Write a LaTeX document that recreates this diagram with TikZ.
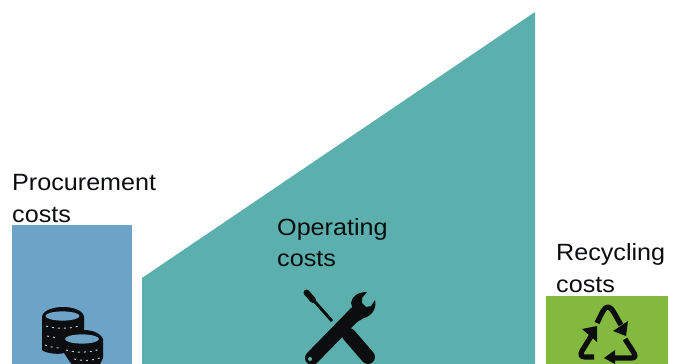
\documentclass[tikz,border=0pt]{standalone}
\usepackage{fontspec}
\setmainfont[FakeStretch=1.07]{Liberation Sans}
\definecolor{procblue}{HTML}{6CA3C6}
\definecolor{opteal}{HTML}{5BB0AE}
\definecolor{recgreen}{HTML}{84B93F}
\definecolor{ink}{HTML}{0B0D0E}
\tikzset{
  lab/.style={anchor=base west,inner sep=0pt,font=\fontsize{23.5}{26}\selectfont,text=ink},
  arm/.style={draw=ink,line width=5.2pt,line join=round},
  headtip/.style={fill=ink,draw=none}
}
\begin{document}
\begin{tikzpicture}[x=1pt,y=-1pt]
\useasboundingbox (0,0) rectangle (680,364);
\fill[white] (0,0) rectangle (680,364);
% bars
\fill[procblue] (12,225) rectangle (132,364);
\fill[opteal] (142,278) -- (535,12) -- (535,364) -- (142,364) -- cycle;
\fill[recgreen] (546,296) rectangle (668,364);
% labels
\node[lab] (proc1) at (12,190) {Procurement};
\node[lab] (proc2) at (12,222) {costs};
\node[lab] (op1) at (277,235) {Operating};
\node[lab] (op2) at (277,266) {costs};
\node[lab] (rec1) at (556,260) {Recycling};
\node[lab] (rec2) at (556,292) {costs};
% coins
\fill[ink] (42,316) -- (42,350) .. controls (45,353) and (58,355) .. (64,353) -- (70,362) -- (72,364) -- (100,364) -- (103,358) -- (103,339) .. controls (100,332) and (90,330) .. (84,330) -- (84,316) .. controls (80,304) and (46,304) .. (42,316) -- cycle;
\fill[procblue] (62.5,316) ellipse[x radius=17,y radius=4.6];
\fill[procblue] (82,339) ellipse[x radius=17,y radius=4.6];
\draw[procblue!55!white,line width=1pt,dash pattern=on 2pt off 4pt] (46,326) .. controls (55,329) and (70,329) .. (79,326);
\draw[procblue!55!white,line width=1pt,dash pattern=on 2pt off 4pt] (45,345) .. controls (50,347) and (55,348) .. (62,348);
\draw[procblue!55!white,line width=1pt,dash pattern=on 2pt off 4pt] (47,336) -- (58,338);
\draw[procblue!55!white,line width=1pt,dash pattern=on 2pt off 4pt] (66,350) .. controls (75,353) and (90,353) .. (100,349);
\draw[procblue!55!white,line width=1pt,dash pattern=on 2pt off 4pt] (74,359) .. controls (82,361) and (90,361) .. (100,358);
% tools
\draw[ink,line width=3pt] (308,294) -- (332,321);
\draw[ink,line width=6pt,line cap=round] (306.5,292.5) -- (313,300);
\draw[ink,line width=14pt,line cap=round] (349,335) -- (368,357);
\draw[ink,line width=14pt,line cap=round] (312,358) -- (356,313);
\fill[ink] (351,303) .. controls (352,296) and (358,292) .. (367,292)
  -- (362,298) -- (362,303) -- (366,307) -- (371,306) -- (375,300)
  .. controls (377,308) and (372,316) .. (364,318)
  -- (357,322) -- cycle;
\fill[opteal] (310,359) circle[radius=2];
% recycling
\draw[arm] (597,323) .. controls (602,313) and (604,307) .. (608,307) .. controls (612,307) and (615,315) .. (621,325);
\fill[headtip] (628,321) -- (626,336) -- (613,331) -- cycle;
\draw[arm] (593,333) -- (582,351) .. controls (580,355) and (581,357) .. (585,357) -- (594,357);
\fill[headtip] (582,329) -- (597,326) -- (597,342) -- cycle;
\draw[arm] (625,339) -- (634,353) .. controls (636,357) and (635,358) .. (631,358) -- (612,358);
\fill[headtip] (604,358) -- (615,350) -- (615,364) -- cycle;
\end{tikzpicture}
\end{document}
